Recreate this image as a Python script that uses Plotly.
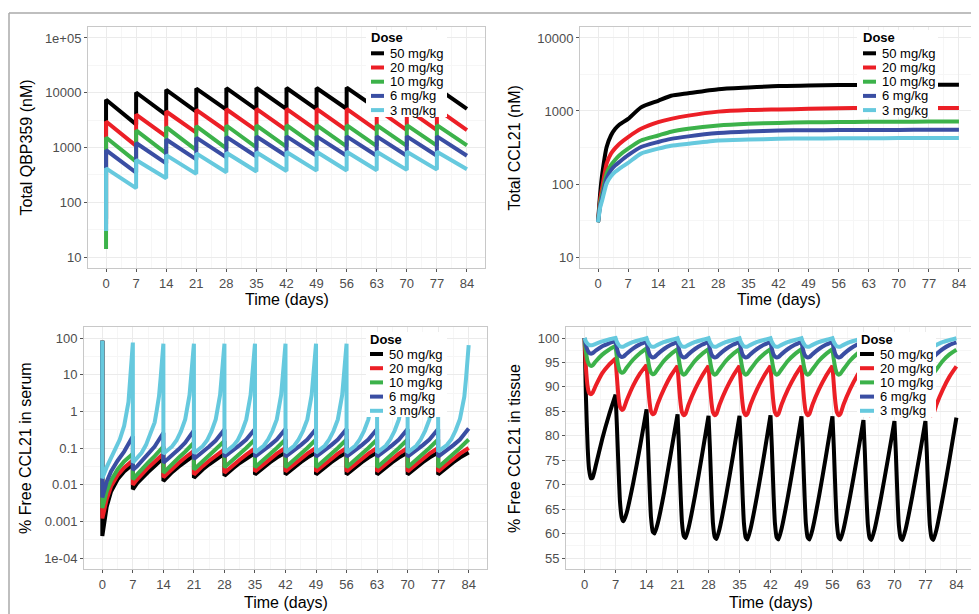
import plotly.graph_objects as go

# ---------------- data ----------------
DOSES = ["50 mg/kg", "20 mg/kg", "10 mg/kg", "6 mg/kg", "3 mg/kg"]
COLORS = ["#000000", "#ec1f26", "#3cb24a", "#3a4ea3", "#66c9de"]
DOSE_DAYS = [0, 7, 14, 21, 28, 35, 42, 49, 56, 63, 70, 77]
DAY_TICKS = [0, 7, 14, 21, 28, 35, 42, 49, 56, 63, 70, 77, 84]

# Panel A: Total QBP359 (nM) -- value before first dose, peak after each dose, trough before next dose
A_START = [50, 40, 14, 30, 30]
A_PEAK_50 = [7460, 10100, 11300, 11900, 12100, 12200, 12200, 12200, 12400, 12300, 12300, 12300]
A_TROUGH_50 = [2640, 3950, 4540, 4900, 4950, 5000, 5000, 5100, 5150, 5100, 5100, 5070]
A_PEAK_20 = [2990, 4000, 4540, 4860, 4990, 5050, 5070, 5070, 5070, 5070, 5070, 5070]
A_TROUGH_20 = [1070, 1600, 1870, 2000, 2050, 2070, 2080, 2080, 2080, 2080, 2080, 2070]
A_PEAK_10 = [1520, 2050, 2360, 2460, 2520, 2540, 2550, 2560, 2560, 2560, 2560, 2560]
A_TROUGH_10 = [551, 780, 895, 960, 1000, 1030, 1040, 1050, 1060, 1070, 1080, 1090]
A_PEAK_6 = [895, 1210, 1400, 1510, 1560, 1590, 1600, 1600, 1600, 1600, 1600, 1600]
A_TROUGH_6 = [349, 514, 607, 661, 685, 700, 706, 706, 706, 706, 706, 706]
A_PEAK_3 = [417, 590, 726, 780, 800, 820, 830, 836, 836, 836, 836, 836]
A_TROUGH_3 = [181, 275, 330, 353, 365, 372, 378, 380, 385, 390, 395, 400]

# Panel B: Total CCL21 (nM)
B_DAYS = [0, 0.5, 1, 2, 3, 4, 5, 7, 10, 14, 17, 21, 28, 35, 42, 49, 56, 63, 70, 77, 84]
B_50 = [30, 75, 140, 321, 462, 570, 652, 778, 1120, 1380, 1615, 1750, 1990, 2100, 2200, 2230, 2260, 2270, 2280, 2280, 2280]
B_20 = [30, 62, 92, 191, 260, 310, 357, 440, 570, 702, 780, 864, 980, 1030, 1050, 1070, 1090, 1100, 1100, 1100, 1100]
B_10 = [30, 55, 75, 140, 181, 215, 248, 305, 395, 462, 520, 570, 632, 667, 687, 700, 705, 710, 712, 715, 716]
B_6 = [30, 51, 67, 119, 155, 180, 201, 248, 321, 376, 415, 449, 498, 525, 541, 545, 548, 550, 551, 552, 552]
B_3 = [30, 48, 61, 102, 128, 147, 163, 195, 261, 305, 335, 356, 395, 406, 417, 420, 422, 424, 425, 426, 426]

# Panel C: % free CCL21 in serum (value at t=0, then one list per dosing interval)
C_START = 84
C_OFFSETS = [0, 1, 2, 3.5, 5, 7]
C_50 = [
    [0.0004, 0.0025, 0.0065, 0.014, 0.023, 0.036],
    [0.0075, 0.011, 0.015, 0.022, 0.032, 0.054],
    [0.0125, 0.017, 0.022, 0.031, 0.043, 0.063],
    [0.0155, 0.021, 0.026, 0.036, 0.048, 0.070],
    [0.0175, 0.023, 0.028, 0.039, 0.052, 0.073],
    [0.019, 0.024, 0.030, 0.041, 0.055, 0.075],
    [0.019, 0.024, 0.030, 0.041, 0.055, 0.075],
    [0.019, 0.024, 0.030, 0.041, 0.055, 0.075],
    [0.019, 0.024, 0.030, 0.041, 0.055, 0.075],
    [0.019, 0.024, 0.030, 0.041, 0.055, 0.075],
    [0.019, 0.024, 0.030, 0.041, 0.055, 0.075],
    [0.019, 0.024, 0.030, 0.041, 0.055, 0.075],
]
C_20 = [
    [0.0012, 0.004, 0.009, 0.018, 0.029, 0.046],
    [0.010, 0.014, 0.019, 0.029, 0.042, 0.070],
    [0.016, 0.021, 0.027, 0.039, 0.055, 0.083],
    [0.019, 0.025, 0.032, 0.045, 0.062, 0.092],
    [0.021, 0.027, 0.034, 0.048, 0.066, 0.097],
    [0.023, 0.029, 0.036, 0.051, 0.070, 0.100],
    [0.023, 0.029, 0.036, 0.051, 0.070, 0.100],
    [0.023, 0.029, 0.036, 0.051, 0.070, 0.100],
    [0.023, 0.029, 0.036, 0.051, 0.070, 0.100],
    [0.023, 0.029, 0.036, 0.051, 0.070, 0.100],
    [0.023, 0.029, 0.036, 0.051, 0.070, 0.100],
    [0.023, 0.029, 0.036, 0.051, 0.070, 0.100],
]
C_10 = [
    [0.0023, 0.0065, 0.013, 0.026, 0.043, 0.070],
    [0.014, 0.019, 0.026, 0.040, 0.060, 0.110],
    [0.021, 0.028, 0.036, 0.054, 0.079, 0.140],
    [0.026, 0.033, 0.043, 0.063, 0.092, 0.155],
    [0.030, 0.038, 0.048, 0.069, 0.100, 0.170],
    [0.030, 0.038, 0.048, 0.069, 0.100, 0.170],
    [0.030, 0.038, 0.048, 0.069, 0.100, 0.170],
    [0.030, 0.038, 0.048, 0.069, 0.100, 0.170],
    [0.030, 0.038, 0.048, 0.069, 0.100, 0.170],
    [0.030, 0.038, 0.048, 0.069, 0.100, 0.170],
    [0.030, 0.038, 0.048, 0.069, 0.100, 0.170],
    [0.030, 0.038, 0.048, 0.069, 0.100, 0.170],
]
C_6 = [
    [0.0045, 0.012, 0.023, 0.045, 0.080, 0.210],
    [0.025, 0.032, 0.043, 0.067, 0.110, 0.260],
    [0.040, 0.050, 0.063, 0.092, 0.140, 0.300],
    [0.050, 0.062, 0.077, 0.110, 0.160, 0.320],
    [0.058, 0.070, 0.085, 0.120, 0.170, 0.330],
    [0.058, 0.070, 0.085, 0.120, 0.170, 0.330],
    [0.058, 0.070, 0.085, 0.120, 0.170, 0.330],
    [0.058, 0.070, 0.085, 0.120, 0.170, 0.330],
    [0.058, 0.070, 0.085, 0.120, 0.170, 0.330],
    [0.058, 0.070, 0.085, 0.120, 0.170, 0.330],
    [0.058, 0.070, 0.085, 0.120, 0.170, 0.330],
    [0.058, 0.070, 0.085, 0.120, 0.170, 0.340],
]
C3_OFFSETS = [0, 1, 2, 3, 4, 5, 5.5, 6, 6.4, 6.7, 6.9, 7]
C_3 = [
    [0.015, 0.030, 0.055, 0.10, 0.17, 0.40, 0.8, 1.8, 8, 30, 55, 75],
    [0.040, 0.055, 0.074, 0.12, 0.24, 0.50, 1.1, 2.6, 9, 40, 60, 70],
    [0.070, 0.085, 0.110, 0.16, 0.28, 0.60, 1.2, 2.8, 10, 40, 60, 70],
    [0.072, 0.087, 0.112, 0.16, 0.28, 0.60, 1.2, 2.8, 10, 40, 60, 70],
    [0.074, 0.089, 0.114, 0.16, 0.28, 0.60, 1.2, 2.8, 10, 40, 60, 70],
    [0.075, 0.090, 0.115, 0.17, 0.29, 0.60, 1.2, 2.8, 10, 40, 60, 70],
    [0.075, 0.090, 0.115, 0.17, 0.29, 0.60, 1.2, 2.8, 10, 40, 60, 70],
    [0.075, 0.090, 0.115, 0.17, 0.29, 0.60, 1.2, 2.8, 10, 40, 60, 70],
    [0.075, 0.090, 0.115, 0.17, 0.29, 0.60, 1.2, 2.8, 10, 40, 60, 70],
    [0.075, 0.090, 0.115, 0.17, 0.29, 0.60, 1.2, 2.8, 10, 40, 60, 70],
    [0.075, 0.090, 0.115, 0.17, 0.29, 0.60, 1.2, 2.8, 10, 40, 60, 70],
    [0.080, 0.095, 0.120, 0.17, 0.30, 0.62, 1.15, 2.5, 8, 28, 48, 64],
]

# Panel D: % free CCL21 in tissue (one list per dosing interval)
D_OFFSETS = [0, 0.3, 0.7, 1.0, 1.4, 1.8, 2.5, 4, 5.5, 7]
D_50 = [
    [100, 88.0, 77.5, 73.2, 71.3, 71.4, 73.8, 79.4, 84.2, 88.4],
    [88.4, 82.0, 72.5, 66.5, 63.2, 62.5, 64.2, 70.4, 77.7, 85.4],
    [85.4, 79.0, 69.0, 63.3, 60.4, 60.0, 62.0, 68.6, 76.5, 84.4],
    [84.4, 78.0, 68.0, 62.3, 59.5, 59.1, 61.2, 68.0, 75.9, 84.1],
    [84.1, 77.8, 67.8, 62.1, 59.3, 58.9, 61.0, 67.9, 75.8, 84.1],
    [84.1, 77.8, 67.8, 62.1, 59.2, 58.8, 61.0, 67.9, 75.8, 84.2],
    [84.2, 77.8, 67.8, 62.1, 59.2, 58.8, 61.0, 67.9, 75.8, 84.0],
    [84.0, 77.7, 67.7, 62.0, 59.2, 58.8, 60.9, 67.8, 75.7, 84.0],
    [84.0, 77.7, 67.7, 62.0, 59.2, 58.8, 60.9, 67.7, 75.3, 83.2],
    [83.2, 77.0, 67.2, 61.8, 59.1, 58.7, 60.8, 67.5, 75.1, 83.0],
    [83.0, 76.9, 67.1, 61.7, 59.1, 58.7, 60.8, 67.5, 75.1, 83.0],
    [83.0, 76.9, 67.1, 61.7, 59.1, 58.7, 60.8, 67.7, 75.5, 83.7],
]
D_20 = [
    [100, 94.0, 90.0, 88.8, 88.5, 88.8, 90.2, 92.8, 94.5, 95.8],
    [95.8, 92.0, 87.6, 85.9, 85.3, 85.5, 87.2, 90.3, 92.7, 94.5],
    [94.5, 90.7, 86.7, 85.0, 84.4, 84.6, 86.5, 89.7, 92.3, 94.3],
    [94.3, 90.5, 86.5, 84.8, 84.2, 84.5, 86.4, 89.6, 92.2, 94.3],
    [94.3, 90.5, 86.5, 84.8, 84.2, 84.5, 86.4, 89.6, 92.2, 94.3],
    [94.3, 90.5, 86.5, 84.8, 84.2, 84.5, 86.4, 89.6, 92.2, 94.3],
    [94.3, 90.5, 86.5, 84.8, 84.2, 84.5, 86.4, 89.6, 92.2, 94.3],
    [94.3, 90.5, 86.5, 84.8, 84.2, 84.5, 86.4, 89.6, 92.2, 94.3],
    [94.3, 90.5, 86.5, 84.8, 84.2, 84.5, 86.4, 89.6, 92.2, 94.3],
    [94.3, 90.5, 86.5, 84.8, 84.2, 84.5, 86.4, 89.6, 92.2, 94.3],
    [94.3, 90.5, 86.5, 84.8, 84.2, 84.5, 86.4, 89.6, 92.2, 94.3],
    [94.3, 90.5, 86.5, 84.8, 84.2, 84.5, 86.4, 89.6, 92.2, 94.2],
]
D_10 = [
    [100, 97.2, 95.2, 94.6, 94.3, 94.4, 95.2, 96.6, 97.6, 98.4],
    [98.4, 96.0, 94.0, 93.2, 92.9, 93.0, 93.9, 95.6, 96.9, 97.9],
    [97.9, 95.7, 93.7, 92.9, 92.6, 92.7, 93.6, 95.4, 96.7, 97.7],
    [97.7, 95.6, 93.6, 92.8, 92.5, 92.7, 93.6, 95.4, 96.7, 97.7],
    [97.7, 95.6, 93.6, 92.8, 92.5, 92.7, 93.6, 95.4, 96.7, 97.7],
    [97.7, 95.6, 93.6, 92.8, 92.5, 92.7, 93.6, 95.4, 96.7, 97.7],
    [97.7, 95.6, 93.6, 92.8, 92.5, 92.7, 93.6, 95.4, 96.7, 97.7],
    [97.7, 95.6, 93.6, 92.8, 92.5, 92.7, 93.6, 95.4, 96.7, 97.7],
    [97.7, 95.6, 93.6, 92.8, 92.5, 92.7, 93.6, 95.4, 96.7, 97.7],
    [97.7, 95.6, 93.6, 92.8, 92.5, 92.7, 93.6, 95.4, 96.7, 97.7],
    [97.7, 95.6, 93.6, 92.8, 92.5, 92.7, 93.6, 95.4, 96.7, 97.7],
    [97.7, 95.6, 93.6, 92.8, 92.5, 92.7, 93.6, 95.4, 96.7, 97.6],
]
D_6 = [
    [100, 98.5, 97.4, 97.0, 96.8, 96.9, 97.4, 98.3, 98.9, 99.4],
    [99.4, 97.9, 96.7, 96.3, 96.1, 96.2, 96.8, 97.9, 98.7, 99.2],
    [99.2, 97.8, 96.6, 96.2, 96.0, 96.1, 96.7, 97.8, 98.6, 99.2],
    [99.2, 97.8, 96.6, 96.2, 96.0, 96.1, 96.7, 97.8, 98.6, 99.2],
    [99.2, 97.8, 96.6, 96.2, 96.0, 96.1, 96.7, 97.8, 98.6, 99.2],
    [99.2, 97.8, 96.6, 96.2, 96.0, 96.1, 96.7, 97.8, 98.6, 99.2],
    [99.2, 97.8, 96.6, 96.2, 96.0, 96.1, 96.7, 97.8, 98.6, 99.2],
    [99.2, 97.8, 96.6, 96.2, 96.0, 96.1, 96.7, 97.8, 98.6, 99.2],
    [99.2, 97.8, 96.6, 96.2, 96.0, 96.1, 96.7, 97.8, 98.6, 99.2],
    [99.2, 97.8, 96.6, 96.2, 96.0, 96.1, 96.7, 97.8, 98.6, 99.2],
    [99.2, 97.8, 96.6, 96.2, 96.0, 96.1, 96.7, 97.8, 98.6, 99.2],
    [99.2, 97.8, 96.6, 96.2, 96.0, 96.1, 96.7, 97.8, 98.6, 99.1],
]
D_3 = [
    [100, 99.3, 98.8, 98.6, 98.5, 98.55, 98.8, 99.3, 99.7, 100.0],
    [100.0, 99.2, 98.6, 98.3, 98.2, 98.25, 98.6, 99.2, 99.6, 99.95],
    [99.95, 99.2, 98.6, 98.3, 98.2, 98.25, 98.6, 99.2, 99.6, 99.95],
    [99.95, 99.2, 98.6, 98.3, 98.2, 98.25, 98.6, 99.2, 99.6, 99.95],
    [99.95, 99.2, 98.6, 98.3, 98.2, 98.25, 98.6, 99.2, 99.6, 99.95],
    [99.95, 99.2, 98.6, 98.3, 98.2, 98.25, 98.6, 99.2, 99.6, 99.95],
    [99.95, 99.2, 98.6, 98.3, 98.2, 98.25, 98.6, 99.2, 99.6, 99.95],
    [99.95, 99.2, 98.6, 98.3, 98.2, 98.25, 98.6, 99.2, 99.6, 99.95],
    [99.95, 99.2, 98.6, 98.3, 98.2, 98.25, 98.6, 99.2, 99.6, 99.95],
    [99.95, 99.2, 98.6, 98.3, 98.2, 98.25, 98.6, 99.2, 99.6, 99.95],
    [99.95, 99.2, 98.6, 98.3, 98.2, 98.25, 98.6, 99.2, 99.6, 99.95],
    [99.95, 99.2, 98.6, 98.3, 98.2, 98.25, 98.6, 99.2, 99.6, 99.95],
]

A_TICKS = [10, 100, 1000, 10000, 100000]
A_TICKTEXT = ["10", "100", "1000", "10000", "1e+05"]
B_TICKS = [10, 100, 1000, 10000]
B_TICKTEXT = ["10", "100", "1000", "10000"]
C_TICKS = [1e-4, 1e-3, 1e-2, 1e-1, 1, 10, 100]
C_TICKTEXT = ["1e-04", "0.001", "0.01", "0.1", "1", "10", "100"]
D_TICKS = [55, 60, 65, 70, 75, 80, 85, 90, 95, 100]

Y_TITLES = ["Total QBP359 (nM)", "Total CCL21 (nM)", "% Free CCL21 in serum", "% Free CCL21 in tissue"]
X_TITLE = "Time (days)"
LEGEND_TITLE = "Dose"


# ---------------- helpers ----------------
def build_cycles(offsets, cycles, start=None):
    xs, ys = [], []
    if start is not None:
        xs.append(0)
        ys.append(start)
    for d, vals in zip(DOSE_DAYS, cycles):
        for o, v in zip(offsets, vals):
            xs.append(d + o)
            ys.append(v)
    return xs, ys


A_SERIES = [(A_PEAK_50, A_TROUGH_50), (A_PEAK_20, A_TROUGH_20), (A_PEAK_10, A_TROUGH_10),
            (A_PEAK_6, A_TROUGH_6), (A_PEAK_3, A_TROUGH_3)]
B_SERIES = [B_50, B_20, B_10, B_6, B_3]
C_SERIES = [(C_OFFSETS, C_50), (C_OFFSETS, C_20), (C_OFFSETS, C_10), (C_OFFSETS, C_6), (C3_OFFSETS, C_3)]
D_SERIES = [D_50, D_20, D_10, D_6, D_3]

FONT = "Liberation Sans, Arial, sans-serif"
LW = 4

fig = go.Figure()

for i, name in enumerate(DOSES):
    pk, tr = A_SERIES[i]
    xs, ys = build_cycles([0, 7], [[p, t] for p, t in zip(pk, tr)], start=A_START[i])
    fig.add_trace(go.Scatter(x=xs, y=ys, mode="lines", name=name, showlegend=False,
                             line=dict(color=COLORS[i], width=LW), xaxis="x", yaxis="y"))
for i, name in enumerate(DOSES):
    fig.add_trace(go.Scatter(x=B_DAYS, y=B_SERIES[i], mode="lines", name=name, showlegend=False,
                             line=dict(color=COLORS[i], width=LW, shape="spline", smoothing=0.6),
                             xaxis="x2", yaxis="y2"))
for i, name in enumerate(DOSES):
    offs, cyc = C_SERIES[i]
    xs, ys = build_cycles(offs, cyc, start=C_START)
    fig.add_trace(go.Scatter(x=xs, y=ys, mode="lines", name=name, showlegend=False,
                             line=dict(color=COLORS[i], width=LW), xaxis="x3", yaxis="y3"))
for i, name in enumerate(DOSES):
    xs, ys = build_cycles(D_OFFSETS, D_SERIES[i])
    fig.add_trace(go.Scatter(x=xs, y=ys, mode="lines", name=name, showlegend=False,
                             line=dict(color=COLORS[i], width=LW, shape="spline", smoothing=0.5),
                             xaxis="x4", yaxis="y4"))

# page is 979x614; the html body adds an 8px margin, so the figure is drawn 8px in
PAGE_OFF = 8
W, H = 979 - PAGE_OFF, 614 - PAGE_OFF


def fx(px):
    return (px - PAGE_OFF) / W


def fy(py):
    return 1 - (py - PAGE_OFF) / H


AX_COMMON = dict(showline=True, linecolor="#c8c8c8", linewidth=1, mirror=True,
                 ticks="outside", ticklen=3, tickcolor="#555555", tickwidth=1,
                 showgrid=True, gridcolor="#ebebeb", gridwidth=1, zeroline=False,
                 tickfont=dict(family=FONT, size=13, color="#4d4d4d"))


def xaxis(domain, anchor):
    return dict(AX_COMMON, domain=domain, anchor=anchor, range=[-4.2, 88.2],
                tickmode="array", tickvals=DAY_TICKS, ticktext=[str(t) for t in DAY_TICKS],
                minor=dict(tickmode="array", tickvals=[d + 3.5 for d in DAY_TICKS[:-1]],
                           showgrid=True, gridcolor="#f6f6f6", ticklen=0))


def log_minor(lo, hi):
    return [10 ** (k + 0.5) for k in range(lo, hi)]


XA = xaxis([fx(88), fx(485)], "y")
XB = xaxis([fx(580), fx(977)], "y2")
XC = xaxis([fx(84), fx(487)], "y3")
XD = xaxis([fx(566), fx(975)], "y4")
TOP = [fy(268), fy(27)]
BOT = [fy(569), fy(327)]

YA = dict(AX_COMMON, domain=TOP, anchor="x", type="log", range=[0.8, 5.2], tickmode="array",
          tickvals=A_TICKS, ticktext=A_TICKTEXT,
          minor=dict(tickmode="array", tickvals=log_minor(1, 5), showgrid=True, gridcolor="#f6f6f6", ticklen=0))
YB = dict(AX_COMMON, domain=TOP, anchor="x2", type="log", range=[0.85, 4.15], tickmode="array",
          tickvals=B_TICKS, ticktext=B_TICKTEXT,
          minor=dict(tickmode="array", tickvals=log_minor(1, 4), showgrid=True, gridcolor="#f6f6f6", ticklen=0))
YC = dict(AX_COMMON, domain=BOT, anchor="x3", type="log", range=[-4.3, 2.3], tickmode="array",
          tickvals=C_TICKS, ticktext=C_TICKTEXT,
          minor=dict(tickmode="array", tickvals=log_minor(-4, 2), showgrid=True, gridcolor="#f6f6f6", ticklen=0))
YD = dict(AX_COMMON, domain=BOT, anchor="x4", range=[52.75, 102.25], tickmode="array",
          tickvals=D_TICKS, ticktext=[str(t) for t in D_TICKS],
          minor=dict(tickmode="array", tickvals=[t + 2.5 for t in D_TICKS[:-1]], showgrid=True,
                     gridcolor="#f6f6f6", ticklen=0))

annotations = []
shapes = []

# axis titles
for (x0, x1), ypx in [((88, 485), 299), ((580, 977), 299), ((84, 487), 602), ((566, 975), 602)]:
    annotations.append(dict(text=X_TITLE, x=fx((x0 + x1) / 2), y=fy(ypx), xref="paper", yref="paper",
                            showarrow=False, xanchor="center", yanchor="middle",
                            font=dict(family=FONT, size=16, color="#000000")))
for title, xpx, ypx in [(Y_TITLES[0], 26, 147.5), (Y_TITLES[1], 514, 147.5),
                        (Y_TITLES[2], 25, 448), (Y_TITLES[3], 514, 448)]:
    annotations.append(dict(text=title, x=fx(xpx), y=fy(ypx), xref="paper", yref="paper",
                            showarrow=False, xanchor="center", yanchor="middle", textangle=-90,
                            font=dict(family=FONT, size=16, color="#000000")))

# in-panel "Dose" legends (white box drawn over the curves, like the original)
# (box x0, y0, x1, y1, title-left, title-y, key-x0, key-x1, text-left, first-row-y)
LEGEND_BOXES = [
    (366, 30, 447, 117, 370, 37.5, 371, 384, 389, 53.3),
    (857, 30, 938, 117, 862, 37.5, 863, 876, 881, 53.3),
    (366, 332, 447, 417, 369, 339.5, 370, 383, 388, 354),
    (857, 332, 936, 417, 860, 339.5, 860, 874, 879, 354),
]
ROW_STEP = 14.2
for bx0, by0, bx1, by1, tx, ty, kx0, kx1, lx, ry in LEGEND_BOXES:
    shapes.append(dict(type="rect", xref="paper", yref="paper", layer="above",
                       x0=fx(bx0), x1=fx(bx1), y0=fy(by1), y1=fy(by0),
                       fillcolor="white", line=dict(width=0)))
    annotations.append(dict(text="<b>" + LEGEND_TITLE + "</b>", x=fx(tx - 1), y=fy(ty), xref="paper",
                            yref="paper", showarrow=False, xanchor="left", yanchor="middle",
                            font=dict(family=FONT, size=13, color="#000000")))
    for i, name in enumerate(DOSES):
        yy = ry + i * ROW_STEP
        shapes.append(dict(type="line", xref="paper", yref="paper", layer="above",
                           x0=fx(kx0), x1=fx(kx1), y0=fy(yy), y1=fy(yy),
                           line=dict(color=COLORS[i], width=4)))
        annotations.append(dict(text=name, x=fx(lx - 1), y=fy(yy), xref="paper", yref="paper",
                                showarrow=False, xanchor="left", yanchor="middle",
                                font=dict(family=FONT, size=13, color="#000000")))

# outer frame of the figure
shapes.append(dict(type="line", xref="paper", yref="paper", x0=fx(9), x1=1, y0=fy(13), y1=fy(13),
                   line=dict(color="#aaaaaa", width=1.5)))
shapes.append(dict(type="line", xref="paper", yref="paper", x0=fx(9), x1=fx(9), y0=0, y1=fy(13),
                   line=dict(color="#aaaaaa", width=1.5)))

fig.update_layout(
    width=W, height=H, margin=dict(l=0, r=0, t=0, b=0),
    paper_bgcolor="white", plot_bgcolor="white",
    font=dict(family=FONT), showlegend=False,
    xaxis=XA, yaxis=YA, xaxis2=XB, yaxis2=YB, xaxis3=XC, yaxis3=YC, xaxis4=XD, yaxis4=YD,
    annotations=annotations, shapes=shapes,
)

fig.write_html("out.html")
